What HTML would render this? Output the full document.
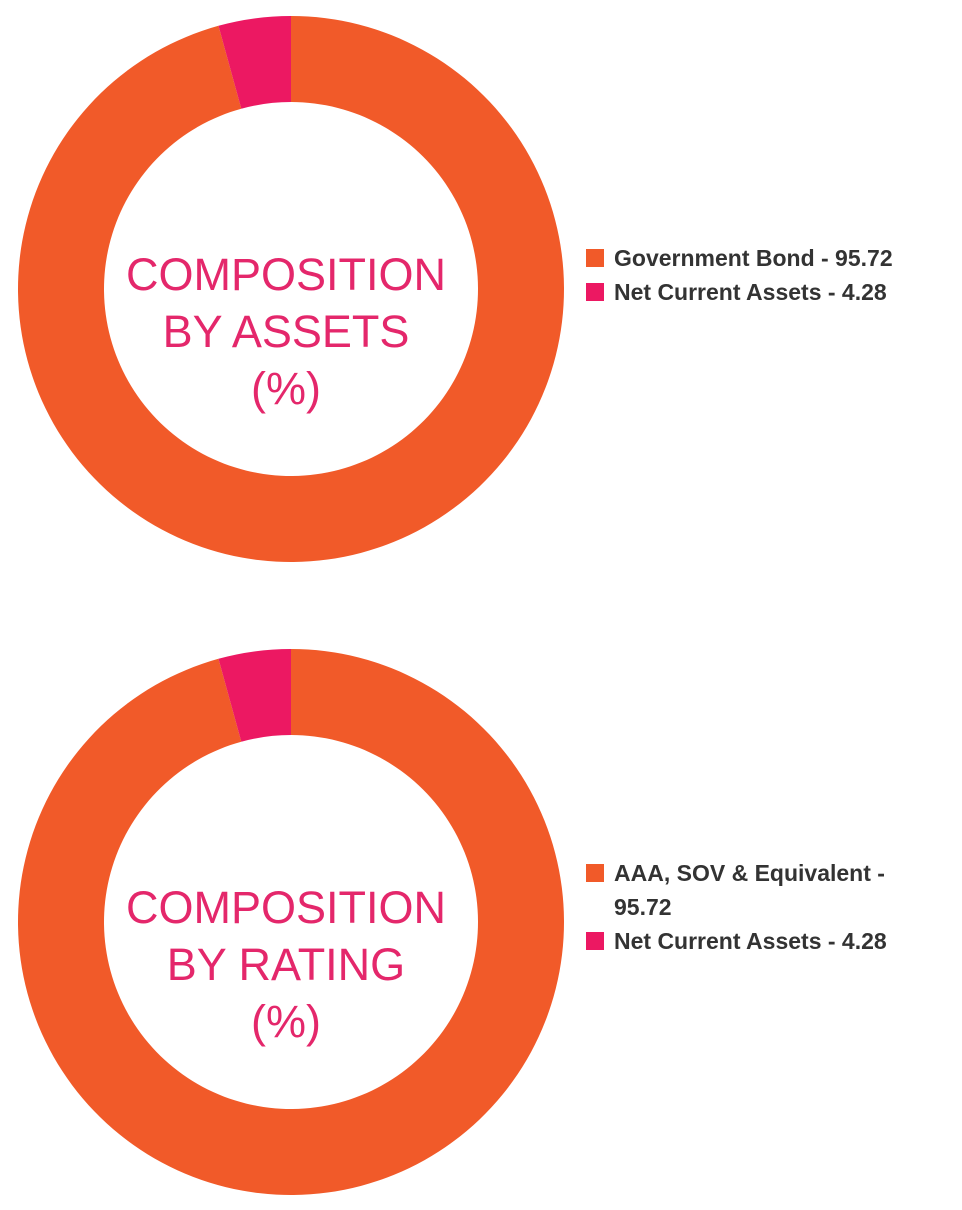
<!DOCTYPE html>
<html><head><meta charset="utf-8"><style>
body{margin:0;background:#fff;width:962px;height:1210px;overflow:hidden}
svg{display:block}
.ct{font-family:"Liberation Sans",sans-serif;font-size:45px;fill:#E4276B;text-anchor:middle}
.lg{font-family:"Liberation Sans",sans-serif;font-size:23px;font-weight:bold;fill:#333}
</style></head><body>
<svg id="chart" width="962" height="1210"></svg>
<script>
const assetLabels=["Government Bond","Net Current Assets"];
const assetValues=[95.72,4.28];
const ratingLabels=["AAA, SOV & Equivalent","Net Current Assets"];
const ratingValues=[95.72,4.28];
const colors=["#F15A29","#EC1862"];
const NS="http://www.w3.org/2000/svg";
const svg=document.getElementById('chart');
function el(t,a){const e=document.createElementNS(NS,t);for(const k in a)e.setAttribute(k,a[k]);return e;}
function pt(cx,cy,r,f){const a=2*Math.PI*f;return [cx+r*Math.sin(a),cy-r*Math.cos(a)];}
function donut(cx,cy,values,name){
  const R=273,r=187,tot=values.reduce((s,v)=>s+v,0);
  let start=0;
  values.forEach((v,i)=>{
    const f0=start/tot,f1=(start+v)/tot;start+=v;
    const [x0,y0]=pt(cx,cy,R,f0),[x1,y1]=pt(cx,cy,R,f1),[x2,y2]=pt(cx,cy,r,f1),[x3,y3]=pt(cx,cy,r,f0);
    const lg=(f1-f0)>0.5?1:0;
    const p=el('path',{d:`M${x0},${y0}A${R},${R} 0 ${lg} 1 ${x1},${y1}L${x2},${y2}A${r},${r} 0 ${lg} 0 ${x3},${y3}Z`,fill:colors[i]});
    
    
    svg.appendChild(p);
  });
}
function center(cx,cy,lines,name){
  lines.forEach((t,i)=>{
    const e=el('text',{x:cx,y:cy+i*57,class:'ct'});e.textContent=t;
    
    
    svg.appendChild(e);
  });
}
function legend(x,rows,name){
  rows.forEach(rw=>{
    if(rw.sq!==undefined){
      const s=el('rect',{x:x,y:rw.y-17,width:18,height:18,fill:colors[rw.sq]});
      
      
      svg.appendChild(s);
    }
    const t=el('text',{x:x+28,y:rw.y,class:'lg'});t.textContent=rw.t;
    
    
    svg.appendChild(t);
  });
}
donut(291,289,assetValues,'assets');
center(286,290,["COMPOSITION","BY ASSETS","(%)"],'assets');
legend(586,[{sq:0,y:266,t:assetLabels[0]+" - "+assetValues[0]},{sq:1,y:300,t:assetLabels[1]+" - "+assetValues[1]}],'assets');
donut(291,922,ratingValues,'rating');
center(286,923,["COMPOSITION","BY RATING","(%)"],'rating');
legend(586,[{sq:0,y:881,t:ratingLabels[0]+" -"},{y:915,t:String(ratingValues[0])},{sq:1,y:949,t:ratingLabels[1]+" - "+ratingValues[1]}],'rating');
</script>
</body></html>
